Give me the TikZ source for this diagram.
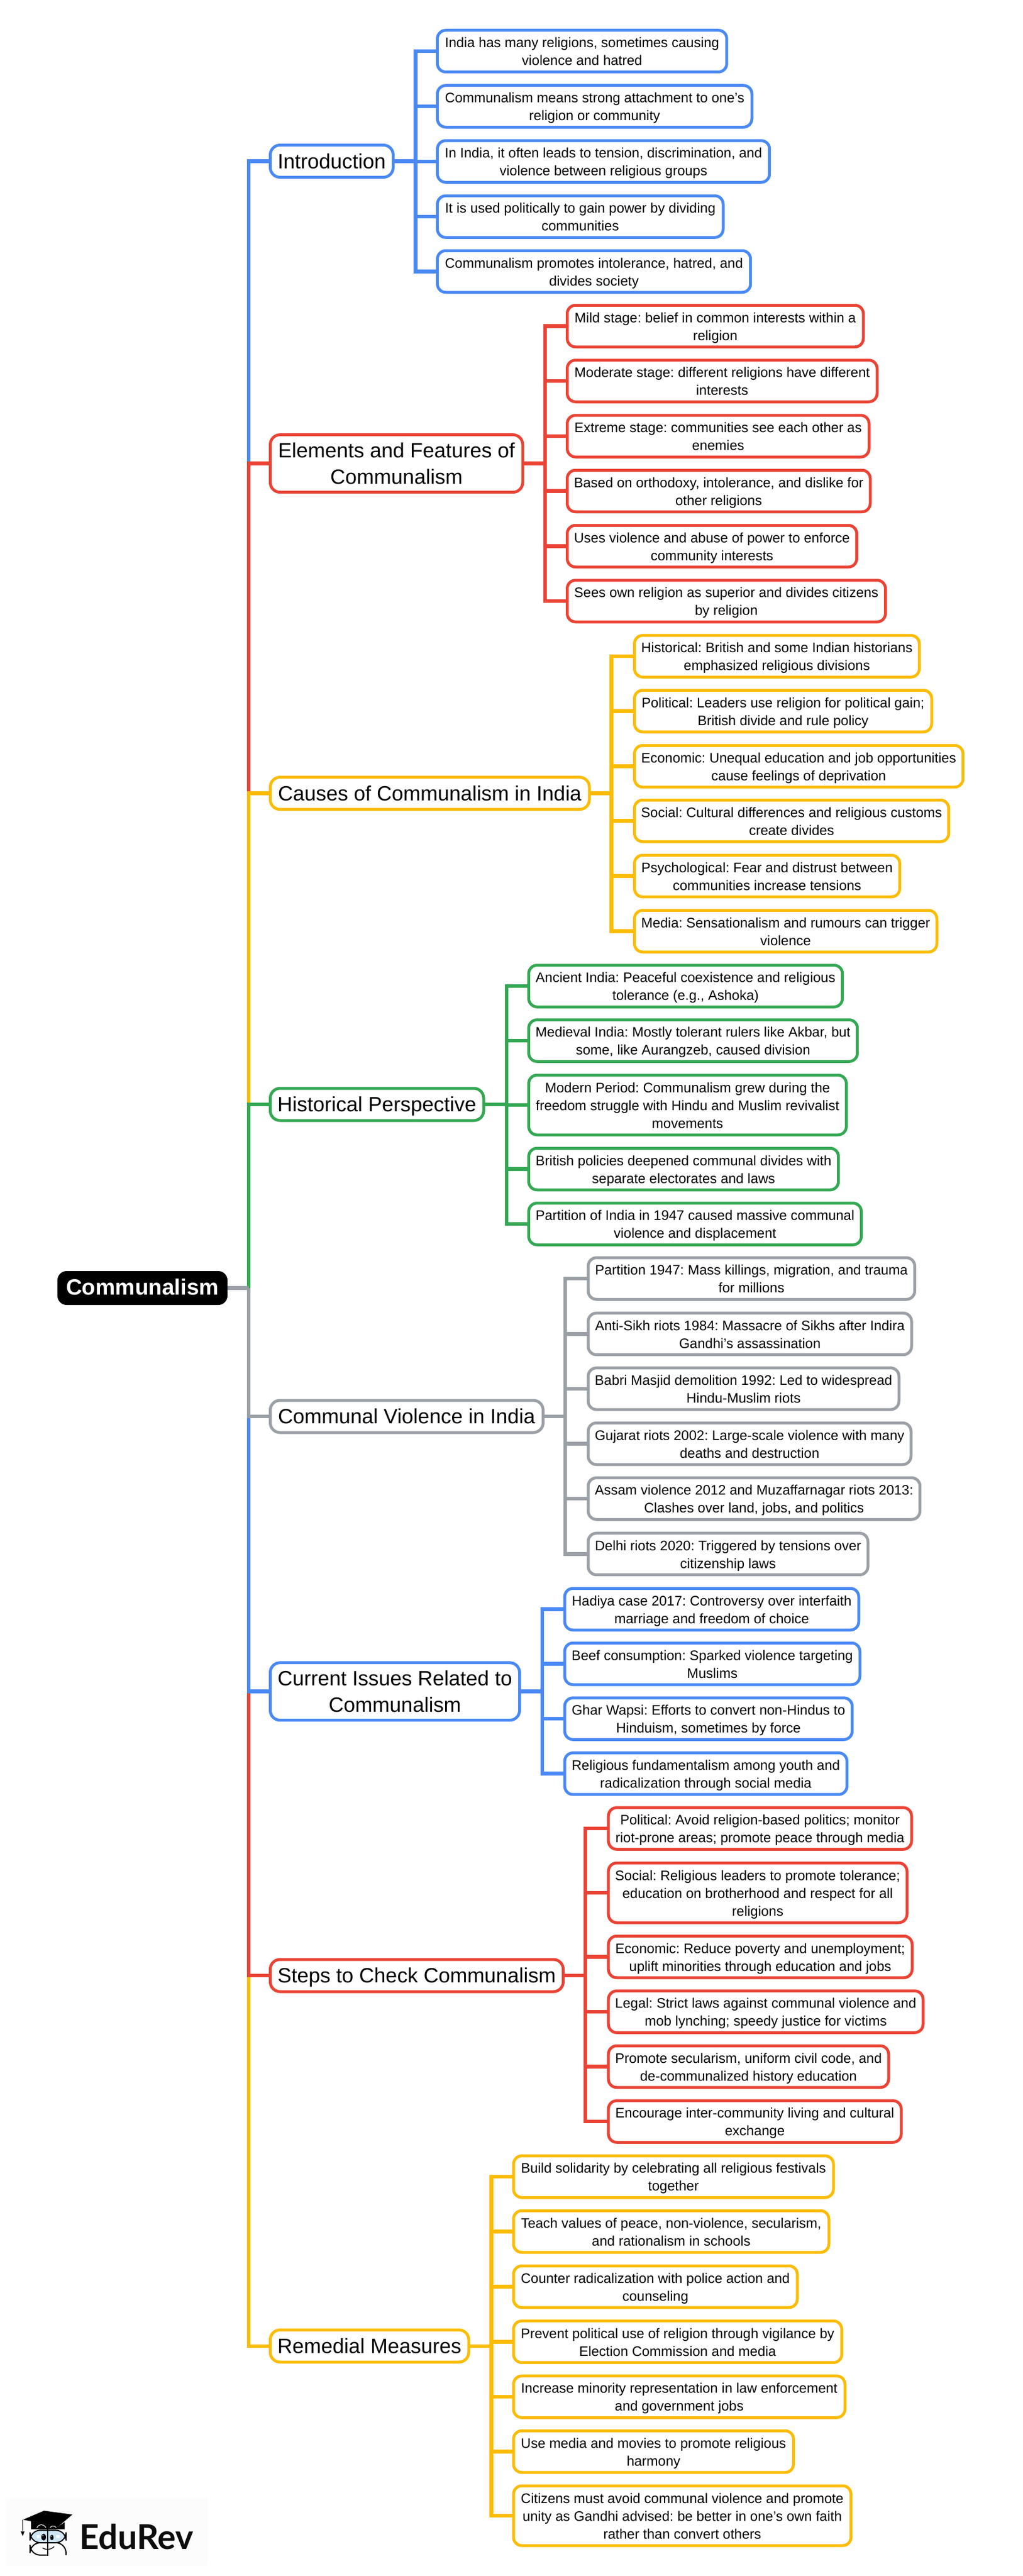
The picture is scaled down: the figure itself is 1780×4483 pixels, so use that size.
\documentclass[tikz,border=0pt]{standalone}
\usepackage{fontspec}
\setmainfont{Liberation Sans}
\newfontfamily\logofont{Lato}
\frenchspacing
\definecolor{cblue}{HTML}{4A89F3}
\definecolor{cred}{HTML}{EA4335}
\definecolor{cyel}{HTML}{FBBC04}
\definecolor{cgrn}{HTML}{34A853}
\definecolor{cgry}{HTML}{9AA0A6}
\definecolor{logoblue}{HTML}{CFE6F5}
\newcommand{\lstr}{\rule[-6.3pt]{0pt}{31pt}}
\newcommand{\hstr}{\rule[-10.2pt]{0pt}{46pt}}
\tikzset{
  leafbox/.style={rectangle,rounded corners=14.5pt,line width=5pt,fill=white,text=black,outer sep=0pt,inner sep=0pt,
    align=center,minimum height=72.5pt,font=\fontsize{24}{31}\selectfont\frenchspacing},
  tallbox/.style={minimum height=104pt},
  hubbox/.style={rectangle,rounded corners=17pt,line width=5pt,fill=white,text=black,outer sep=0pt,inner sep=0pt,
    align=center,minimum height=56pt,font=\fontsize{36}{46}\selectfont\frenchspacing},
  twoline/.style={minimum height=100pt},
  rootbox/.style={rectangle,rounded corners=16pt,fill=black,text=white,outer sep=0pt,inner sep=0pt,
    align=center,minimum height=59pt,minimum width=296pt,text height=23.6pt,text depth=0pt,font=\fontsize{38.6}{46}\selectfont\bfseries},
  conn/.style={line width=6.5pt,line join=miter}
}
% colour, name, left, right, y, text, [extra]
\newcommand{\lf}[7][]{\node[leafbox,#1,draw=#2,minimum width={#5+1.5-#4-5}] (#3) at ({(#4+#5+1.5)/2},#6) {\lstr #7\lstr};}
\newcommand{\hb}[6][]{\node[hubbox,#1,draw=#2,minimum width={#4-468-5}] (#3) at ({(468+#4)/2},#5) {\hstr #6\hstr};}
% colour, hub, trunk x, leaves
\newcommand{\grp}[4]{\coordinate (j#2) at (#2.east -| #3,0);
  \draw[conn,#1] (#2.east) -- (j#2);
  \foreach \n in {#4} {\draw[conn,#1] (j#2) |- (\n.west);}}
\begin{document}
\begin{tikzpicture}[x=1pt,y=-1pt]
\useasboundingbox (0,0) rectangle (1780,4483);
\node[rootbox] (root) at (248,2241.5) {Communalism};
\coordinate (jr) at (433,2241.5);
% hubs
\hb{cblue}{hA}{687}{280.5}{Introduction}
\hb[twoline]{cred}{hB}{912.5}{806.6}{Elements and Features of\\Communalism}
\hb{cyel}{hC}{1028.5}{1380.6}{Causes of Communalism in India}
\hb{cgrn}{hD}{844.5}{1922}{Historical Perspective}
\hb{cgry}{hE}{948}{2465}{Communal Violence in India}
\hb[twoline]{cblue}{hF}{907}{2943.6}{Current Issues Related to\\Communalism}
\hb{cred}{hG}{983}{3438}{Steps to Check Communalism}
\hb{cyel}{hH}{818.5}{4082.7}{Remedial Measures}
% Introduction
\lf{cblue}{a1}{759}{1266.2}{89}{India has many religions, sometimes causing\\violence and hatred}
\lf{cblue}{a2}{759}{1310}{185}{Communalism means strong attachment to one's\\religion or community}
\lf{cblue}{a3}{759}{1340.7}{281}{In India, it often leads to tension, discrimination, and\\violence between religious groups}
\lf{cblue}{a4}{759}{1260}{377}{It is used politically to gain power by dividing\\communities}
\lf{cblue}{a5}{759}{1307.6}{472.5}{Communalism promotes intolerance, hatred, and\\divides society}
% Elements
\lf{cred}{b1}{985}{1504}{567.5}{Mild stage: belief in common interests within a\\religion}
\lf{cred}{b2}{985}{1528}{663}{Moderate stage: different religions have different\\interests}
\lf{cred}{b3}{985}{1514}{759}{Extreme stage: communities see each other as\\enemies}
\lf{cred}{b4}{985}{1516}{854.5}{Based on orthodoxy, intolerance, and dislike for\\other religions}
\lf{cred}{b5}{985}{1492.5}{950.5}{Uses violence and abuse of power to enforce\\community interests}
\lf{cred}{b6}{985}{1542.5}{1046}{Sees own religion as superior and divides citizens\\by religion}
% Causes
\lf{cyel}{c1}{1102}{1601.5}{1142}{Historical: British and some Indian historians\\emphasized religious divisions}
\lf{cyel}{c2}{1102}{1623}{1237.5}{Political: Leaders use religion for political gain;\\British divide and rule policy}
\lf{cyel}{c3}{1102}{1677.5}{1333.5}{Economic: Unequal education and job opportunities\\cause feelings of deprivation}
\lf{cyel}{c4}{1102}{1652.6}{1428.5}{Social: Cultural differences and religious customs\\create divides}
\lf{cyel}{c5}{1102}{1567.4}{1524.5}{Psychological: Fear and distrust between\\communities increase tensions}
\lf{cyel}{c6}{1102}{1632}{1620.5}{Media: Sensationalism and rumours can trigger\\violence}
% Historical
\lf{cgrn}{d1}{918}{1467.6}{1716}{Ancient India: Peaceful coexistence and religious\\tolerance (e.g., Ashoka)}
\lf{cgrn}{d2}{918}{1493.7}{1811}{Medieval India: Mostly tolerant rulers like Akbar, but\\some, like Aurangzeb, caused division}
\lf[tallbox]{cgrn}{d3}{918}{1474.4}{1923}{Modern Period: Communalism grew during the\\freedom struggle with Hindu and Muslim revivalist\\movements}
\lf{cgrn}{d4}{918}{1460.7}{2034.5}{British policies deepened communal divides with\\separate electorates and laws}
\lf{cgrn}{d5}{918}{1500.5}{2130}{Partition of India in 1947 caused massive communal\\violence and displacement}
% Communal violence
\lf{cgry}{e1}{1021.5}{1593.5}{2225}{Partition 1947: Mass killings, migration, and trauma\\for millions}
\lf{cgry}{e2}{1021.5}{1588}{2321.4}{Anti-Sikh riots 1984: Massacre of Sikhs after Indira\\Gandhi's assassination}
\lf{cgry}{e3}{1021.5}{1566}{2416.8}{Babri Masjid demolition 1992: Led to widespread\\Hindu-Muslim riots}
\lf{cgry}{e4}{1021.5}{1587}{2512.5}{Gujarat riots 2002: Large-scale violence with many\\deaths and destruction}
\lf{cgry}{e5}{1021.5}{1602.6}{2608}{Assam violence 2012 and Muzaffarnagar riots 2013:\\Clashes over land, jobs, and politics}
\lf{cgry}{e6}{1021.5}{1512}{2704.4}{Delhi riots 2020: Triggered by tensions over\\citizenship laws}
% Current
\lf{cblue}{f1}{980.6}{1496}{2800.5}{Hadiya case 2017: Controversy over interfaith\\marriage and freedom of choice}
\lf{cblue}{f2}{980.6}{1498}{2895.5}{Beef consumption: Sparked violence targeting\\Muslims}
\lf{cblue}{f3}{980.6}{1484.6}{2991}{Ghar Wapsi: Efforts to convert non-Hindus to\\Hinduism, sometimes by force}
\lf{cblue}{f4}{980.6}{1475.5}{3086.7}{Religious fundamentalism among youth and\\radicalization through social media}
% Steps
\lf{cred}{g1}{1056.7}{1588}{3182}{Political: Avoid religion-based politics; monitor\\riot-prone areas; promote peace through media}
\lf[tallbox]{cred}{g2}{1056.7}{1580}{3294}{Social: Religious leaders to promote tolerance;\\education on brotherhood and respect for all\\religions}
\lf{cred}{g3}{1056.7}{1589}{3405.5}{Economic: Reduce poverty and unemployment;\\uplift minorities through education and jobs}
\lf{cred}{g4}{1056.7}{1608}{3501}{Legal: Strict laws against communal violence and\\mob lynching; speedy justice for victims}
\lf{cred}{g5}{1056.7}{1548}{3596.5}{Promote secularism, uniform civil code, and\\de-communalized history education}
\lf{cred}{g6}{1056.7}{1570}{3692}{Encourage inter-community living and cultural\\exchange}
% Remedial
\lf{cyel}{h1}{891.5}{1452}{3788}{Build solidarity by celebrating all religious festivals\\together}
\lf{cyel}{h2}{891.5}{1444}{3883.5}{Teach values of peace, non-violence, secularism,\\and rationalism in schools}
\lf{cyel}{h3}{891.5}{1389}{3979.5}{Counter radicalization with police action and\\counseling}
\lf{cyel}{h4}{891.5}{1466.4}{4075.3}{Prevent political use of religion through vigilance by\\Election Commission and media}
\lf{cyel}{h5}{891.5}{1472}{4171}{Increase minority representation in law enforcement\\and government jobs}
\lf{cyel}{h6}{891.5}{1382.4}{4266.5}{Use media and movies to promote religious\\harmony}
\lf[tallbox]{cyel}{h7}{891.5}{1482.5}{4378}{Citizens must avoid communal violence and promote\\unity as Gandhi advised: be better in one's own faith\\rather than convert others}
% groups
\grp{cblue}{hA}{723.5}{a1,a2,a3,a4,a5}
\grp{cred}{hB}{949}{b1,b2,b3,b4,b5,b6}
\grp{cyel}{hC}{1064.6}{c1,c2,c3,c4,c5,c6}
\grp{cgrn}{hD}{882}{d1,d2,d3,d4,d5}
\grp{cgry}{hE}{984}{e1,e2,e3,e4,e5,e6}
\grp{cblue}{hF}{944}{f1,f2,f3,f4}
\grp{cred}{hG}{1019}{g1,g2,g3,g4,g5,g6}
\grp{cyel}{hH}{855.5}{h1,h2,h3,h4,h5,h6,h7}
% main trunk
\draw[conn,cblue] (jr) |- (hA.west);
\draw[conn,cred] (jr) |- (hB.west);
\draw[conn,cyel] (jr) |- (hC.west);
\draw[conn,cgrn] (jr) |- (hD.west);
\draw[conn,cyel] (jr) |- (hH.west);
\draw[conn,cred] (jr) |- (hG.west);
\draw[conn,cblue] (jr) |- (hF.west);
\draw[conn,cgry] (jr) |- (hE.west);
\draw[conn,cgry] (root.east) -- (jr);
% logo
\fill[fill=black!1] (10,4347) rectangle (362,4465);
\node[anchor=base west,inner sep=0pt,font=\logofont\bfseries\fontsize{59.5}{60}\selectfont,text=black!95] (logotext) at (138,4436) {EduRev};
\begin{scope}[shift={(0,4300)},x=0.3333pt,y=-0.3333pt]
  \fill[black] (162,262) -- (162,305) -- (338,305) -- (338,268) -- (305,290) -- cycle;
  \draw[white,line width=1pt] (192,298) .. controls (205,275) and (225,275) .. (240,296);
  \draw[white,line width=1pt] (262,296) .. controls (270,285) and (285,285) .. (294,296);
  \fill[black] (120,255) -- (230,208) -- (378,228) -- (305,290) -- cycle;
  \draw[black,line width=1.3pt] (118,255) -- (118,312);
  \fill[black] (108,316) -- (128,316) -- (119,340) -- cycle;
  \draw[black,line width=2pt,fill=logoblue,rounded corners=18pt] (157,310) rectangle (345,375);
  \draw[black,line width=2pt,rounded corners=18pt] (245,440) -- (157,440) -- (157,375) -- (345,375) -- (345,440);
  \draw[black,line width=2.2pt] (250,302) -- (250,443);
  \fill[white] (192,335) rectangle (208,350);
  \fill[white] (294,335) rectangle (312,350);
  \fill[black] (228,346) ellipse [x radius=12,y radius=18];
  \fill[black] (271,348) ellipse [x radius=9,y radius=14];
  \fill[white] (224,338) circle (3);
  \fill[white] (268,341) circle (3);
  \draw[black,line width=1.3pt] (222,402) .. controls (238,414) and (268,412) .. (283,395);
\end{scope}
\end{tikzpicture}
\end{document}
